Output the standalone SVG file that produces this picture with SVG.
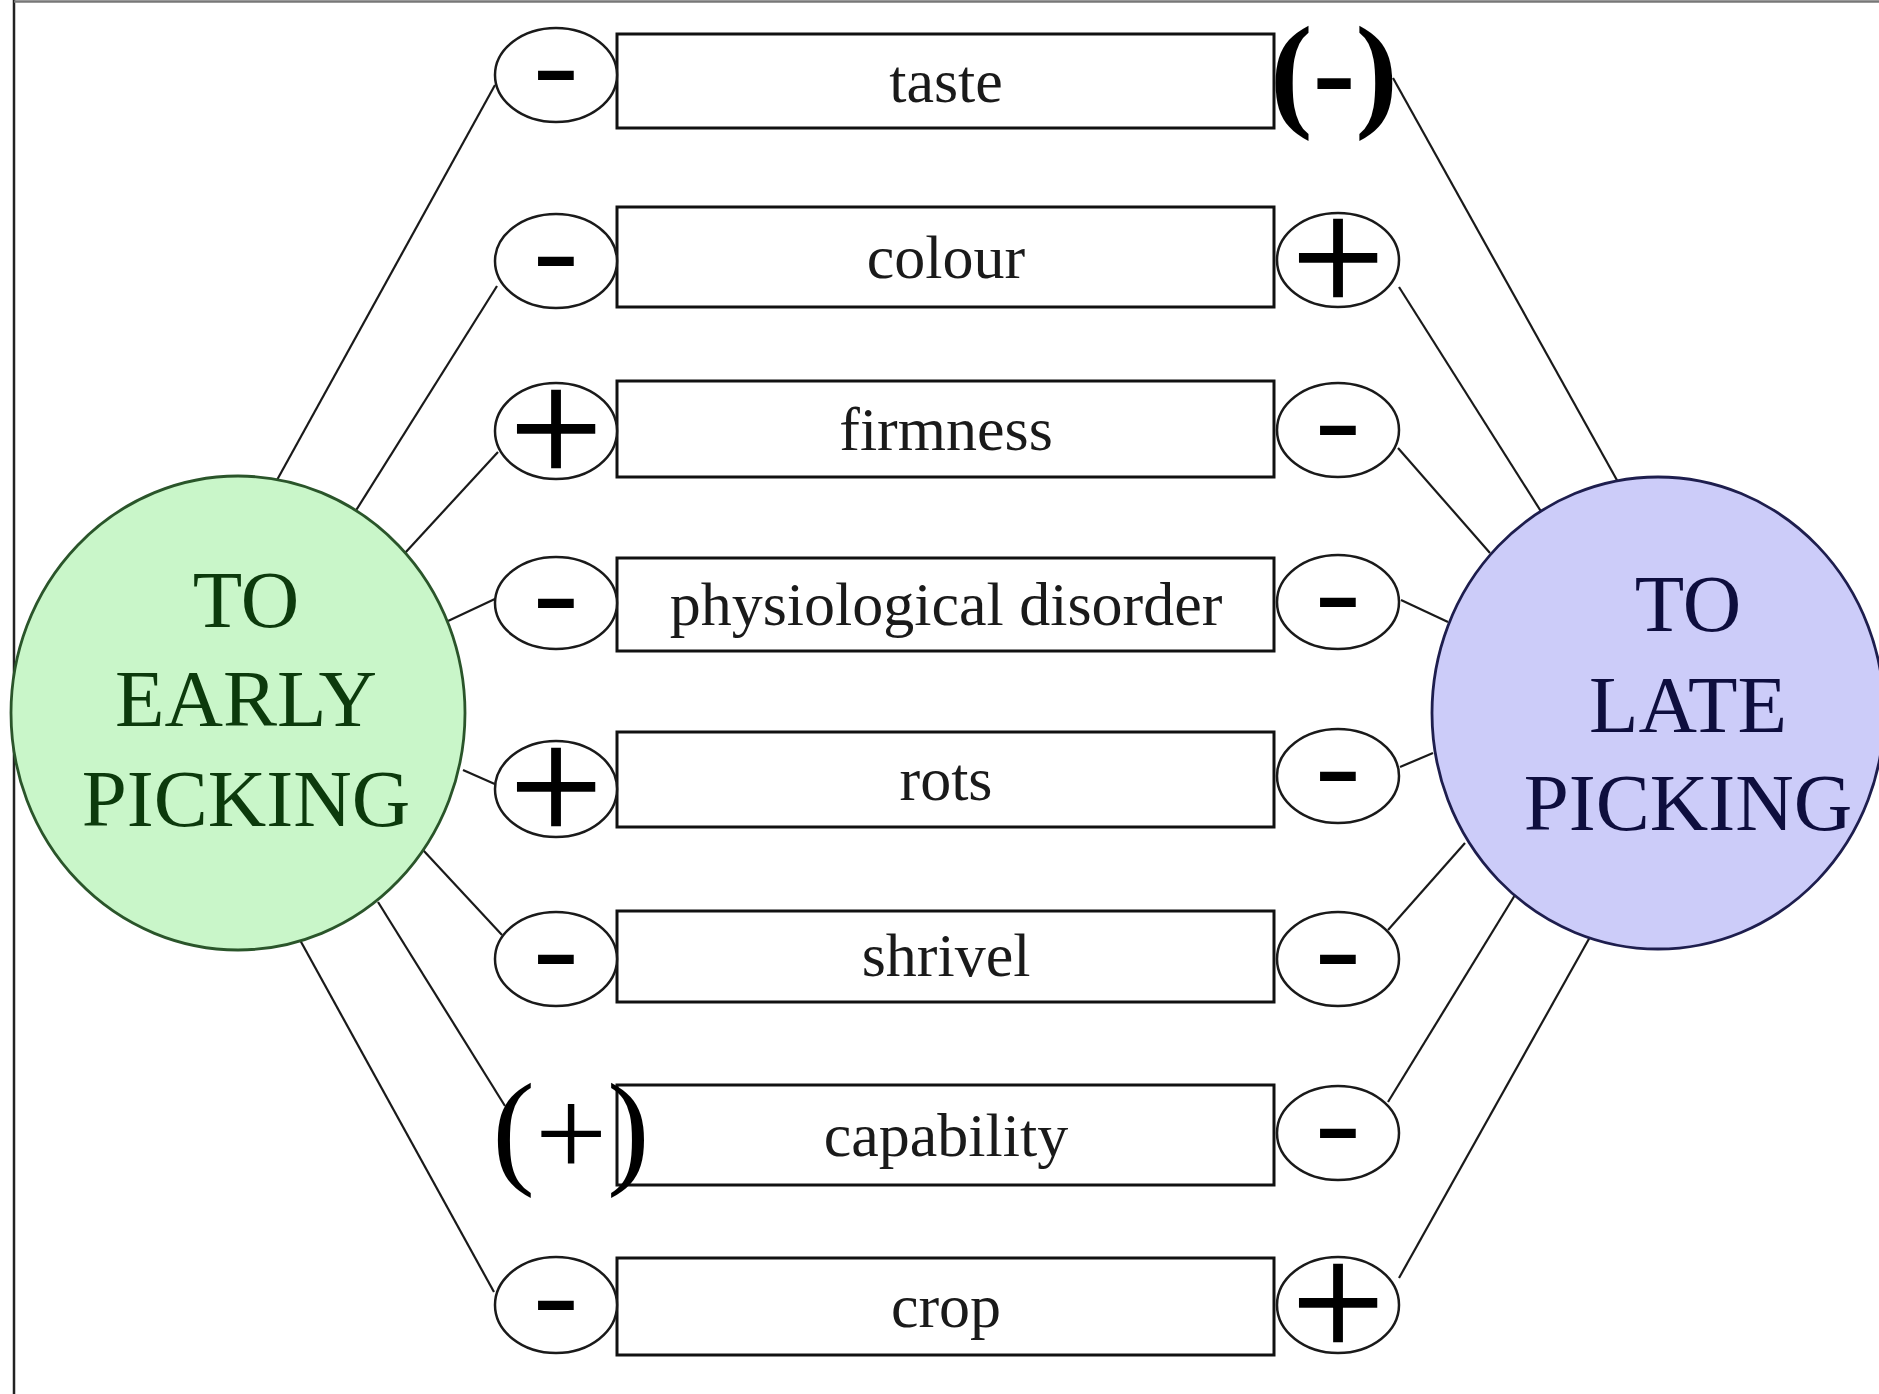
<svg xmlns="http://www.w3.org/2000/svg" width="1879" height="1394" viewBox="0 0 1879 1394">
<style>
.frame{stroke:#222;stroke-width:2.5;fill:none}
.box{fill:#fff;stroke:#111;stroke-width:3}
.sc{fill:#fff;stroke:#1a1a1a;stroke-width:2.5}
.lbl{font-family:"Liberation Serif","Times New Roman",serif;font-size:62px;fill:#1a1a1a;text-anchor:middle}
.plus{font-family:"Liberation Serif","Times New Roman",serif;font-size:165px;fill:#000;stroke:#000;stroke-width:1.5;text-anchor:middle}
.minus{font-family:"Liberation Serif","Times New Roman",serif;font-size:110px;font-weight:bold;fill:#000;text-anchor:middle}
.par{font-family:"Liberation Serif","Times New Roman",serif;font-size:128px;fill:#000;text-anchor:middle}
.big{font-family:"Liberation Serif","Times New Roman",serif;font-size:81px;text-anchor:middle}
.conn line{stroke:#1a1a1a;stroke-width:2.2}
</style>
<rect x="0" y="0" width="1879" height="1394" fill="#fff"/>
<line class="frame" x1="14" y1="0" x2="14" y2="1394"/>
<line x1="14" y1="1.5" x2="1879" y2="1.5" stroke="#777" stroke-width="2.5"/>

<g id="connectors" class="conn">
<line x1="495" y1="85" x2="277" y2="480"/>
<line x1="497" y1="286" x2="355" y2="512"/>
<line x1="498" y1="452" x2="405" y2="553"/>
<line x1="497" y1="598" x2="448" y2="621"/>
<line x1="497" y1="785" x2="463" y2="770"/>
<line x1="502" y1="935" x2="423" y2="850"/>
<line x1="505" y1="1106" x2="378" y2="902"/>
<line x1="494" y1="1292" x2="300" y2="940"/>
<line x1="1393" y1="78" x2="1618" y2="482"/>
<line x1="1399" y1="287" x2="1542" y2="513"/>
<line x1="1398" y1="448" x2="1490" y2="553"/>
<line x1="1401" y1="600" x2="1448" y2="622"/>
<line x1="1400" y1="767" x2="1433" y2="753"/>
<line x1="1388" y1="930" x2="1465" y2="843"/>
<line x1="1388" y1="1102" x2="1515" y2="895"/>
<line x1="1399" y1="1278" x2="1590" y2="937"/>
</g>

<g id="early">
<ellipse cx="238" cy="713" rx="227" ry="237" fill="#c9f6c9" stroke="#2a552a" stroke-width="2.8"/>
<text class="big" fill="#0c3a0c" x="246" y="627">TO</text>
<text class="big" fill="#0c3a0c" x="246" y="726">EARLY</text>
<text class="big" fill="#0c3a0c" x="246" y="826">PICKING</text>
</g>

<g id="late">
<ellipse cx="1658" cy="713" rx="226" ry="236" fill="#ccccf9" stroke="#1e1e4e" stroke-width="2.8"/>
<text class="big" fill="#0e0e3e" x="1688" y="631">TO</text>
<text class="big" fill="#0e0e3e" x="1688" y="732">LATE</text>
<text class="big" fill="#0e0e3e" x="1688" y="830">PICKING</text>
</g>

<g id="taste">
<rect class="box" x="617" y="34" width="657" height="94"/>
<text class="lbl" x="946" y="102">taste</text>
<ellipse class="sc" cx="556" cy="75" rx="61" ry="47"/>
<text class="minus" transform="translate(556 101) scale(1.25 1)">-</text>
<text class="par" x="1334" y="114" font-size="124" font-weight="bold">(-)</text>
</g>

<g id="colour">
<rect class="box" x="617" y="207" width="657" height="100"/>
<text class="lbl" x="946" y="278">colour</text>
<ellipse class="sc" cx="556" cy="261" rx="61" ry="47"/>
<text class="minus" transform="translate(556 287) scale(1.25 1)">-</text>
<ellipse class="sc" cx="1338" cy="260" rx="61" ry="47"/>
<text class="plus" x="1338" y="313">+</text>
</g>

<g id="firmness">
<rect class="box" x="617" y="381" width="657" height="96"/>
<text class="lbl" x="946" y="450">firmness</text>
<ellipse class="sc" cx="556" cy="431" rx="61" ry="48"/>
<text class="plus" x="556" y="484">+</text>
<ellipse class="sc" cx="1338" cy="430" rx="61" ry="47"/>
<text class="minus" transform="translate(1338 456) scale(1.25 1)">-</text>
</g>

<g id="physiological-disorder">
<rect class="box" x="617" y="558" width="657" height="93"/>
<text class="lbl" x="946" y="625">physiological disorder</text>
<ellipse class="sc" cx="556" cy="603" rx="61" ry="46"/>
<text class="minus" transform="translate(556 629) scale(1.25 1)">-</text>
<ellipse class="sc" cx="1338" cy="602" rx="61" ry="47"/>
<text class="minus" transform="translate(1338 628) scale(1.25 1)">-</text>
</g>

<g id="rots">
<rect class="box" x="617" y="732" width="657" height="95"/>
<text class="lbl" x="946" y="800">rots</text>
<ellipse class="sc" cx="556" cy="789" rx="61" ry="48"/>
<text class="plus" x="556" y="842">+</text>
<ellipse class="sc" cx="1338" cy="776" rx="61" ry="47"/>
<text class="minus" transform="translate(1338 802) scale(1.25 1)">-</text>
</g>

<g id="shrivel">
<rect class="box" x="617" y="911" width="657" height="91"/>
<text class="lbl" x="946" y="976">shrivel</text>
<ellipse class="sc" cx="556" cy="959" rx="61" ry="47"/>
<text class="minus" transform="translate(556 985) scale(1.25 1)">-</text>
<ellipse class="sc" cx="1338" cy="959" rx="61" ry="47"/>
<text class="minus" transform="translate(1338 985) scale(1.25 1)">-</text>
</g>

<g id="capability">
<rect class="box" x="617" y="1085" width="657" height="100"/>
<text class="lbl" x="946" y="1156">capability</text>
<text class="par" x="571" y="1171">(<tspan dy="5">+</tspan><tspan dy="-5">)</tspan></text>
<ellipse class="sc" cx="1338" cy="1133" rx="61" ry="47"/>
<text class="minus" transform="translate(1338 1159) scale(1.25 1)">-</text>
</g>

<g id="crop">
<rect class="box" x="617" y="1258" width="657" height="97"/>
<text class="lbl" x="946" y="1327">crop</text>
<ellipse class="sc" cx="556" cy="1305" rx="61" ry="48"/>
<text class="minus" transform="translate(556 1331) scale(1.25 1)">-</text>
<ellipse class="sc" cx="1338" cy="1305" rx="61" ry="48"/>
<text class="plus" x="1338" y="1358">+</text>
</g>
</svg>
